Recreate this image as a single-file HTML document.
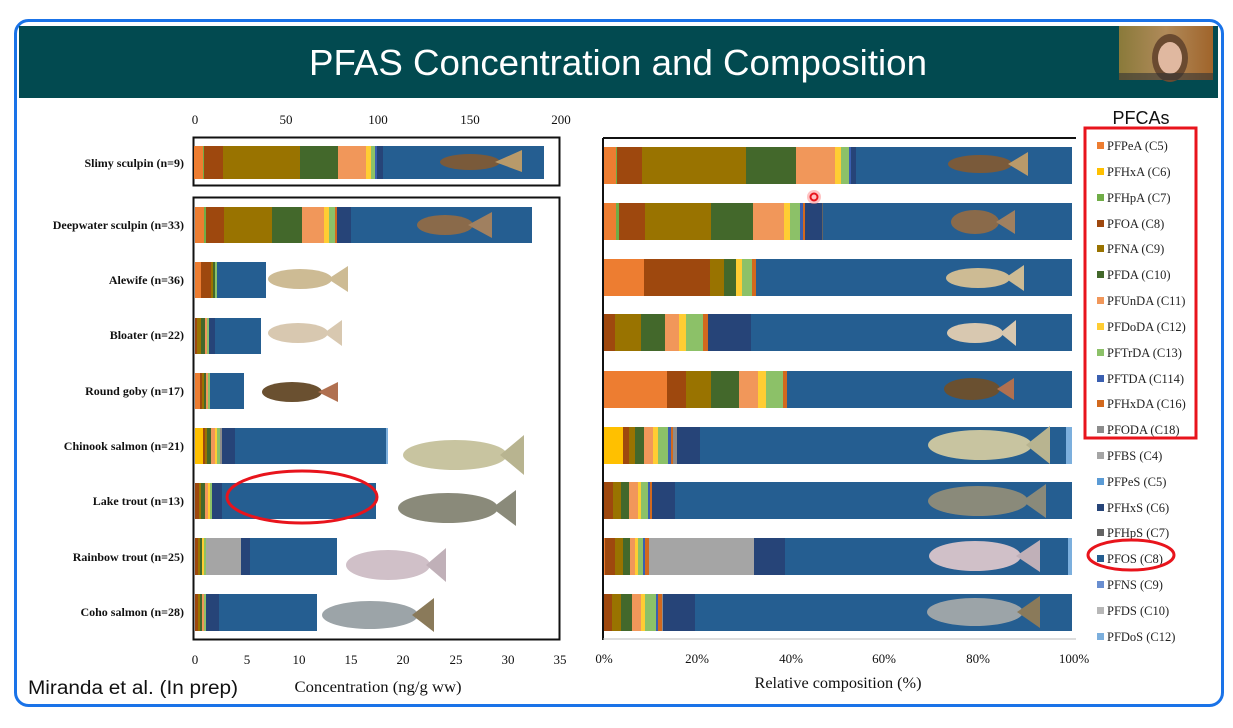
<!DOCTYPE html>
<html><head><meta charset="utf-8"><style>
html,body{margin:0;padding:0;background:#fff;width:1233px;height:728px;overflow:hidden}
svg{display:block}
.a{fill:#ED7D31}.b{fill:#FFC000}.c{fill:#70AD47}.d{fill:#9E480E}.e{fill:#997300}.f{fill:#43682B}.g{fill:#F1975A}.h{fill:#FFCD33}.i{fill:#8CC168}.j{fill:#3A5FB0}.k{fill:#D2691E}.l{fill:#8C8C8C}.m{fill:#A5A5A5}.n{fill:#264478}.o{fill:#255E91}.p{fill:#7CAFDD}.q{fill:#636363}.r{fill:#5B9BD5}.s{fill:#698ED0}.t{fill:#B7B7B7}
.lab{font-family:"Liberation Serif",serif;font-size:12px;font-weight:bold;fill:#111;text-anchor:end}
.tk{font-family:"Liberation Serif",serif;font-size:13px;fill:#111;text-anchor:middle}
.ax{font-family:"Liberation Serif",serif;font-size:16px;fill:#111;text-anchor:middle}
.lg{font-family:"Liberation Serif",serif;font-size:12.5px;fill:#222}
.fish{fill:#cdbb94}
</style></head><body>
<svg width="1233" height="728" viewBox="0 0 1233 728" xmlns="http://www.w3.org/2000/svg">
<rect x="15.5" y="20.5" width="1207" height="685" rx="13" fill="#fff" stroke="#1a73e8" stroke-width="3"/>
<rect x="19" y="26" width="1199" height="72" fill="#024a50"/>
<text x="618" y="75" font-family="Liberation Sans,sans-serif" font-size="36" fill="#fff" text-anchor="middle" textLength="618" lengthAdjust="spacingAndGlyphs">PFAS Concentration and Composition</text>
<defs><linearGradient id="cam" x1="0" x2="1"><stop offset="0" stop-color="#8a7a3a"/><stop offset="0.5" stop-color="#b08a5a"/><stop offset="1" stop-color="#a0642a"/></linearGradient></defs>
<rect x="1119" y="26" width="94" height="54" fill="url(#cam)"/>
<ellipse cx="1170" cy="58" rx="18" ry="24" fill="#6a4a30"/>
<ellipse cx="1170" cy="58" rx="12" ry="16" fill="#e0b8a0"/>
<rect x="1119" y="73" width="94" height="7" fill="#333" opacity="0.6"/>

<g class="tk"><text x="195" y="124">0</text><text x="286" y="124">50</text><text x="378" y="124">100</text><text x="470" y="124">150</text><text x="561" y="124">200</text></g>
<rect x="193.5" y="137.5" width="366" height="48" fill="none" stroke="#111" stroke-width="2"/>
<rect x="193.5" y="197.5" width="366" height="442" fill="none" stroke="#111" stroke-width="2"/>
<g>
<rect class="a" x="194" y="146" width="9" height="33"/><rect class="c" x="203" y="146" width="1" height="33"/><rect class="d" x="204" y="146" width="19" height="33"/><rect class="e" x="223" y="146" width="77" height="33"/><rect class="f" x="300" y="146" width="38" height="33"/><rect class="g" x="338" y="146" width="28" height="33"/><rect class="h" x="366" y="146" width="5" height="33"/><rect class="i" x="371" y="146" width="4" height="33"/><rect class="j" x="375" y="146" width="2" height="33"/><rect class="n" x="377" y="146" width="6" height="33"/><rect class="o" x="383" y="146" width="161" height="33"/>
<rect class="a" x="195" y="207" width="9" height="36"/><rect class="c" x="204" y="207" width="2" height="36"/><rect class="d" x="206" y="207" width="18" height="36"/><rect class="e" x="224" y="207" width="48" height="36"/><rect class="f" x="272" y="207" width="30" height="36"/><rect class="g" x="302" y="207" width="22" height="36"/><rect class="h" x="324" y="207" width="5" height="36"/><rect class="i" x="329" y="207" width="6" height="36"/><rect class="k" x="335" y="207" width="2" height="36"/><rect class="n" x="337" y="207" width="14" height="36"/><rect class="o" x="351" y="207" width="181" height="36"/>
<rect class="a" x="195" y="262" width="6" height="36"/><rect class="d" x="201" y="262" width="10" height="36"/><rect class="e" x="211" y="262" width="2" height="36"/><rect class="f" x="213" y="262" width="2" height="36"/><rect class="i" x="215" y="262" width="2" height="36"/><rect class="o" x="217" y="262" width="49" height="36"/>
<rect class="d" x="195" y="318" width="2" height="36"/><rect class="e" x="197" y="318" width="4" height="36"/><rect class="f" x="201" y="318" width="4" height="36"/><rect class="g" x="205" y="318" width="2" height="36"/><rect class="i" x="207" y="318" width="2" height="36"/><rect class="n" x="209" y="318" width="6" height="36"/><rect class="o" x="215" y="318" width="46" height="36"/>
<rect class="a" x="195" y="373" width="5" height="36"/><rect class="d" x="200" y="373" width="2" height="36"/><rect class="e" x="202" y="373" width="2" height="36"/><rect class="f" x="204" y="373" width="2" height="36"/><rect class="g" x="206" y="373" width="2" height="36"/><rect class="i" x="208" y="373" width="2" height="36"/><rect class="o" x="210" y="373" width="34" height="36"/>
<rect class="b" x="195" y="428" width="8" height="36"/><rect class="d" x="203" y="428" width="2" height="36"/><rect class="e" x="205" y="428" width="2" height="36"/><rect class="f" x="207" y="428" width="4" height="36"/><rect class="g" x="211" y="428" width="4" height="36"/><rect class="h" x="215" y="428" width="2" height="36"/><rect class="i" x="217" y="428" width="3" height="36"/><rect class="l" x="220" y="428" width="2" height="36"/><rect class="n" x="222" y="428" width="13" height="36"/><rect class="o" x="235" y="428" width="151" height="36"/><rect class="p" x="386" y="428" width="2" height="36"/>
<rect class="d" x="195" y="483" width="4" height="36"/><rect class="e" x="199" y="483" width="2" height="36"/><rect class="f" x="201" y="483" width="4" height="36"/><rect class="g" x="205" y="483" width="3" height="36"/><rect class="h" x="208" y="483" width="2" height="36"/><rect class="i" x="210" y="483" width="2" height="36"/><rect class="n" x="212" y="483" width="10" height="36"/><rect class="o" x="222" y="483" width="154" height="36"/>
<rect class="d" x="195" y="538" width="3" height="37"/><rect class="e" x="198" y="538" width="2" height="37"/><rect class="f" x="200" y="538" width="2" height="37"/><rect class="h" x="202" y="538" width="2" height="37"/><rect class="i" x="204" y="538" width="2" height="37"/><rect class="m" x="206" y="538" width="35" height="37"/><rect class="n" x="241" y="538" width="9" height="37"/><rect class="o" x="250" y="538" width="87" height="37"/>
<rect class="d" x="195" y="594" width="3" height="37"/><rect class="e" x="198" y="594" width="2" height="37"/><rect class="f" x="200" y="594" width="2" height="37"/><rect class="g" x="202" y="594" width="2" height="37"/><rect class="i" x="204" y="594" width="2" height="37"/><rect class="n" x="206" y="594" width="13" height="37"/><rect class="o" x="219" y="594" width="98" height="37"/>
</g>
<g class="lab">
<text x="184" y="167">Slimy sculpin (n=9)</text><text x="184" y="229">Deepwater sculpin (n=33)</text><text x="184" y="284">Alewife (n=36)</text><text x="184" y="339">Bloater (n=22)</text><text x="184" y="395">Round goby (n=17)</text><text x="184" y="450">Chinook salmon (n=21)</text><text x="184" y="505">Lake trout (n=13)</text><text x="184" y="561">Rainbow trout (n=25)</text><text x="184" y="616">Coho salmon (n=28)</text>
</g>
<g class="tk"><text x="195" y="664">0</text><text x="247" y="664">5</text><text x="299" y="664">10</text><text x="351" y="664">15</text><text x="403" y="664">20</text><text x="456" y="664">25</text><text x="508" y="664">30</text><text x="560" y="664">35</text></g>
<text x="378" y="692" class="ax" textLength="167" lengthAdjust="spacingAndGlyphs">Concentration (ng/g ww)</text>
<text x="28" y="694" font-family="Liberation Sans,sans-serif" font-size="19" fill="#111" textLength="210" lengthAdjust="spacingAndGlyphs">Miranda et al. (In prep)</text>

<g>
<ellipse cx="470" cy="162" rx="30" ry="8" fill="#7a5a3a"/><path d="M495 162 L522 150 L522 172Z" fill="#b89a6a"/>
<ellipse cx="445" cy="225" rx="28" ry="10" fill="#8a6a4a"/><path d="M468 225 L492 212 L492 238Z" fill="#a08060"/>
<ellipse cx="300" cy="279" rx="32" ry="10" class="fish"/><path d="M328 279 L348 266 L348 292Z" class="fish"/>
<ellipse cx="298" cy="333" rx="30" ry="10" fill="#d8c8b0"/><path d="M324 333 L342 320 L342 346Z" fill="#d8c8b0"/>
<ellipse cx="292" cy="392" rx="30" ry="10" fill="#6a5030"/><path d="M318 392 L338 382 L338 402Z" fill="#b07050"/>
<ellipse cx="455" cy="455" rx="52" ry="15" fill="#c8c4a0"/><path d="M500 455 L524 435 L524 475Z" fill="#b8b490"/>
<ellipse cx="448" cy="508" rx="50" ry="15" fill="#8a8a7a"/><path d="M492 508 L516 490 L516 526Z" fill="#8a8a7a"/>
<ellipse cx="388" cy="565" rx="42" ry="15" fill="#d0c0c8"/><path d="M426 565 L446 548 L446 582Z" fill="#c0b0b8"/>
<ellipse cx="370" cy="615" rx="48" ry="14" fill="#9ca4a8"/><path d="M412 615 L434 598 L434 632Z" fill="#8a7a5a"/>
</g>

<line x1="603" y1="138" x2="1076" y2="138" stroke="#111" stroke-width="2"/>
<line x1="603" y1="138" x2="603" y2="640" stroke="#111" stroke-width="2"/>
<line x1="603" y1="639" x2="1076" y2="639" stroke="#bbb" stroke-width="1"/>
<g>
<rect class="a" x="604" y="147" width="12" height="37"/><rect class="c" x="616" y="147" width="1" height="37"/><rect class="d" x="617" y="147" width="25" height="37"/><rect class="e" x="642" y="147" width="104" height="37"/><rect class="f" x="746" y="147" width="50" height="37"/><rect class="g" x="796" y="147" width="39" height="37"/><rect class="h" x="835" y="147" width="6" height="37"/><rect class="i" x="841" y="147" width="8" height="37"/><rect class="j" x="849" y="147" width="2" height="37"/><rect class="n" x="851" y="147" width="5" height="37"/><rect class="o" x="856" y="147" width="216" height="37"/>
<rect class="a" x="604" y="203" width="12" height="37"/><rect class="c" x="616" y="203" width="3" height="37"/><rect class="d" x="619" y="203" width="26" height="37"/><rect class="e" x="645" y="203" width="66" height="37"/><rect class="f" x="711" y="203" width="42" height="37"/><rect class="g" x="753" y="203" width="31" height="37"/><rect class="h" x="784" y="203" width="6" height="37"/><rect class="i" x="790" y="203" width="10" height="37"/><rect class="j" x="800" y="203" width="3" height="37"/><rect class="k" x="803" y="203" width="2" height="37"/><rect class="n" x="805" y="203" width="17" height="37"/><rect class="q" x="822" y="203" width="1" height="37"/><rect class="o" x="823" y="203" width="249" height="37"/>
<rect class="a" x="604" y="259" width="40" height="37"/><rect class="d" x="644" y="259" width="66" height="37"/><rect class="e" x="710" y="259" width="14" height="37"/><rect class="f" x="724" y="259" width="12" height="37"/><rect class="h" x="736" y="259" width="6" height="37"/><rect class="i" x="742" y="259" width="10" height="37"/><rect class="k" x="752" y="259" width="4" height="37"/><rect class="o" x="756" y="259" width="316" height="37"/>
<rect class="d" x="604" y="314" width="11" height="37"/><rect class="e" x="615" y="314" width="26" height="37"/><rect class="f" x="641" y="314" width="24" height="37"/><rect class="g" x="665" y="314" width="14" height="37"/><rect class="h" x="679" y="314" width="7" height="37"/><rect class="i" x="686" y="314" width="17" height="37"/><rect class="k" x="703" y="314" width="5" height="37"/><rect class="n" x="708" y="314" width="43" height="37"/><rect class="o" x="751" y="314" width="321" height="37"/>
<rect class="a" x="604" y="371" width="63" height="37"/><rect class="d" x="667" y="371" width="19" height="37"/><rect class="e" x="686" y="371" width="25" height="37"/><rect class="f" x="711" y="371" width="28" height="37"/><rect class="g" x="739" y="371" width="19" height="37"/><rect class="h" x="758" y="371" width="8" height="37"/><rect class="i" x="766" y="371" width="17" height="37"/><rect class="k" x="783" y="371" width="4" height="37"/><rect class="o" x="787" y="371" width="285" height="37"/>
<rect class="b" x="604" y="427" width="19" height="37"/><rect class="d" x="623" y="427" width="6" height="37"/><rect class="e" x="629" y="427" width="6" height="37"/><rect class="f" x="635" y="427" width="9" height="37"/><rect class="g" x="644" y="427" width="9" height="37"/><rect class="h" x="653" y="427" width="5" height="37"/><rect class="i" x="658" y="427" width="10" height="37"/><rect class="j" x="668" y="427" width="3" height="37"/><rect class="k" x="671" y="427" width="2" height="37"/><rect class="l" x="673" y="427" width="4" height="37"/><rect class="n" x="677" y="427" width="23" height="37"/><rect class="o" x="700" y="427" width="366" height="37"/><rect class="p" x="1066" y="427" width="6" height="37"/>
<rect class="d" x="604" y="482" width="9" height="37"/><rect class="e" x="613" y="482" width="8" height="37"/><rect class="f" x="621" y="482" width="8" height="37"/><rect class="g" x="629" y="482" width="9" height="37"/><rect class="h" x="638" y="482" width="3" height="37"/><rect class="i" x="641" y="482" width="7" height="37"/><rect class="j" x="648" y="482" width="2" height="37"/><rect class="k" x="650" y="482" width="2" height="37"/><rect class="n" x="652" y="482" width="23" height="37"/><rect class="o" x="675" y="482" width="397" height="37"/>
<rect class="a" x="604" y="538" width="1" height="37"/><rect class="d" x="605" y="538" width="10" height="37"/><rect class="e" x="615" y="538" width="8" height="37"/><rect class="f" x="623" y="538" width="7" height="37"/><rect class="g" x="630" y="538" width="5" height="37"/><rect class="h" x="635" y="538" width="3" height="37"/><rect class="i" x="638" y="538" width="5" height="37"/><rect class="j" x="643" y="538" width="2" height="37"/><rect class="k" x="645" y="538" width="4" height="37"/><rect class="m" x="649" y="538" width="105" height="37"/><rect class="n" x="754" y="538" width="31" height="37"/><rect class="o" x="785" y="538" width="283" height="37"/><rect class="p" x="1068" y="538" width="4" height="37"/>
<rect class="d" x="604" y="594" width="8" height="37"/><rect class="e" x="612" y="594" width="9" height="37"/><rect class="f" x="621" y="594" width="11" height="37"/><rect class="g" x="632" y="594" width="9" height="37"/><rect class="h" x="641" y="594" width="4" height="37"/><rect class="i" x="645" y="594" width="11" height="37"/><rect class="j" x="656" y="594" width="2" height="37"/><rect class="k" x="658" y="594" width="4" height="37"/><rect class="l" x="662" y="594" width="1" height="37"/><rect class="n" x="663" y="594" width="32" height="37"/><rect class="o" x="695" y="594" width="377" height="37"/>
</g>
<g>
<ellipse cx="980" cy="164" rx="32" ry="9" fill="#7a5a3a"/><path d="M1008 164 L1028 152 L1028 176Z" fill="#b89a6a"/>
<ellipse cx="975" cy="222" rx="24" ry="12" fill="#8a6a4a"/><path d="M996 222 L1015 210 L1015 234Z" fill="#a08060"/>
<ellipse cx="978" cy="278" rx="32" ry="10" class="fish"/><path d="M1005 278 L1024 265 L1024 291Z" class="fish"/>
<ellipse cx="975" cy="333" rx="28" ry="10" fill="#d8c8b0"/><path d="M1000 333 L1016 320 L1016 346Z" fill="#d8c8b0"/>
<ellipse cx="972" cy="389" rx="28" ry="11" fill="#6a5030"/><path d="M997 389 L1014 378 L1014 400Z" fill="#b07050"/>
<ellipse cx="980" cy="445" rx="52" ry="15" fill="#c8c4a0"/><path d="M1026 445 L1050 426 L1050 464Z" fill="#b8b490"/>
<ellipse cx="978" cy="501" rx="50" ry="15" fill="#8a8a7a"/><path d="M1022 501 L1046 484 L1046 518Z" fill="#8a8a7a"/>
<ellipse cx="975" cy="556" rx="46" ry="15" fill="#d0c0c8"/><path d="M1016 556 L1040 540 L1040 572Z" fill="#c0b0b8"/>
<ellipse cx="975" cy="612" rx="48" ry="14" fill="#9ca4a8"/><path d="M1017 612 L1040 596 L1040 628Z" fill="#8a7a5a"/>
</g>
<g class="tk"><text x="604" y="663">0%</text><text x="697" y="663">20%</text><text x="791" y="663">40%</text><text x="884" y="663">60%</text><text x="978" y="663">80%</text><text x="1074" y="663">100%</text></g>
<text x="838" y="688" class="ax" textLength="167" lengthAdjust="spacingAndGlyphs">Relative composition (%)</text>

<text x="1141" y="124" font-family="Liberation Sans,sans-serif" font-size="18" fill="#111" text-anchor="middle">PFCAs</text>
<g>
<rect class="a" x="1097" y="142" width="7" height="7"/><text class="lg" x="1107" y="150">PFPeA (C5)</text>
<rect class="b" x="1097" y="168" width="7" height="7"/><text class="lg" x="1107" y="176">PFHxA (C6)</text>
<rect class="c" x="1097" y="194" width="7" height="7"/><text class="lg" x="1107" y="202">PFHpA (C7)</text>
<rect class="d" x="1097" y="220" width="7" height="7"/><text class="lg" x="1107" y="228">PFOA (C8)</text>
<rect class="e" x="1097" y="245" width="7" height="7"/><text class="lg" x="1107" y="253">PFNA  (C9)</text>
<rect class="f" x="1097" y="271" width="7" height="7"/><text class="lg" x="1107" y="279">PFDA (C10)</text>
<rect class="g" x="1097" y="297" width="7" height="7"/><text class="lg" x="1107" y="305">PFUnDA (C11)</text>
<rect class="h" x="1097" y="323" width="7" height="7"/><text class="lg" x="1107" y="331">PFDoDA (C12)</text>
<rect class="i" x="1097" y="349" width="7" height="7"/><text class="lg" x="1107" y="357">PFTrDA (C13)</text>
<rect class="j" x="1097" y="375" width="7" height="7"/><text class="lg" x="1107" y="383">PFTDA (C114)</text>
<rect class="k" x="1097" y="400" width="7" height="7"/><text class="lg" x="1107" y="408">PFHxDA (C16)</text>
<rect class="l" x="1097" y="426" width="7" height="7"/><text class="lg" x="1107" y="434">PFODA (C18)</text>
<rect class="m" x="1097" y="452" width="7" height="7"/><text class="lg" x="1107" y="460">PFBS (C4)</text>
<rect class="r" x="1097" y="478" width="7" height="7"/><text class="lg" x="1107" y="486">PFPeS (C5)</text>
<rect class="n" x="1097" y="504" width="7" height="7"/><text class="lg" x="1107" y="512">PFHxS (C6)</text>
<rect class="q" x="1097" y="529" width="7" height="7"/><text class="lg" x="1107" y="537">PFHpS (C7)</text>
<rect class="o" x="1097" y="555" width="7" height="7"/><text class="lg" x="1107" y="563">PFOS (C8)</text>
<rect class="s" x="1097" y="581" width="7" height="7"/><text class="lg" x="1107" y="589">PFNS (C9)</text>
<rect class="t" x="1097" y="607" width="7" height="7"/><text class="lg" x="1107" y="615">PFDS (C10)</text>
<rect class="p" x="1097" y="633" width="7" height="7"/><text class="lg" x="1107" y="641">PFDoS (C12)</text>
</g>

<rect x="1085" y="128" width="111" height="310" fill="none" stroke="#e8141c" stroke-width="3"/>
<ellipse cx="1131" cy="555" rx="43" ry="15" fill="none" stroke="#e8141c" stroke-width="3"/>
<ellipse cx="302" cy="497" rx="75" ry="26" fill="none" stroke="#e8141c" stroke-width="3"/>
<circle cx="814" cy="197" r="7" fill="#ff9a9a" opacity="0.6"/>
<circle cx="814" cy="197" r="3.5" fill="none" stroke="#e8141c" stroke-width="2"/>
</svg>
</body></html>
